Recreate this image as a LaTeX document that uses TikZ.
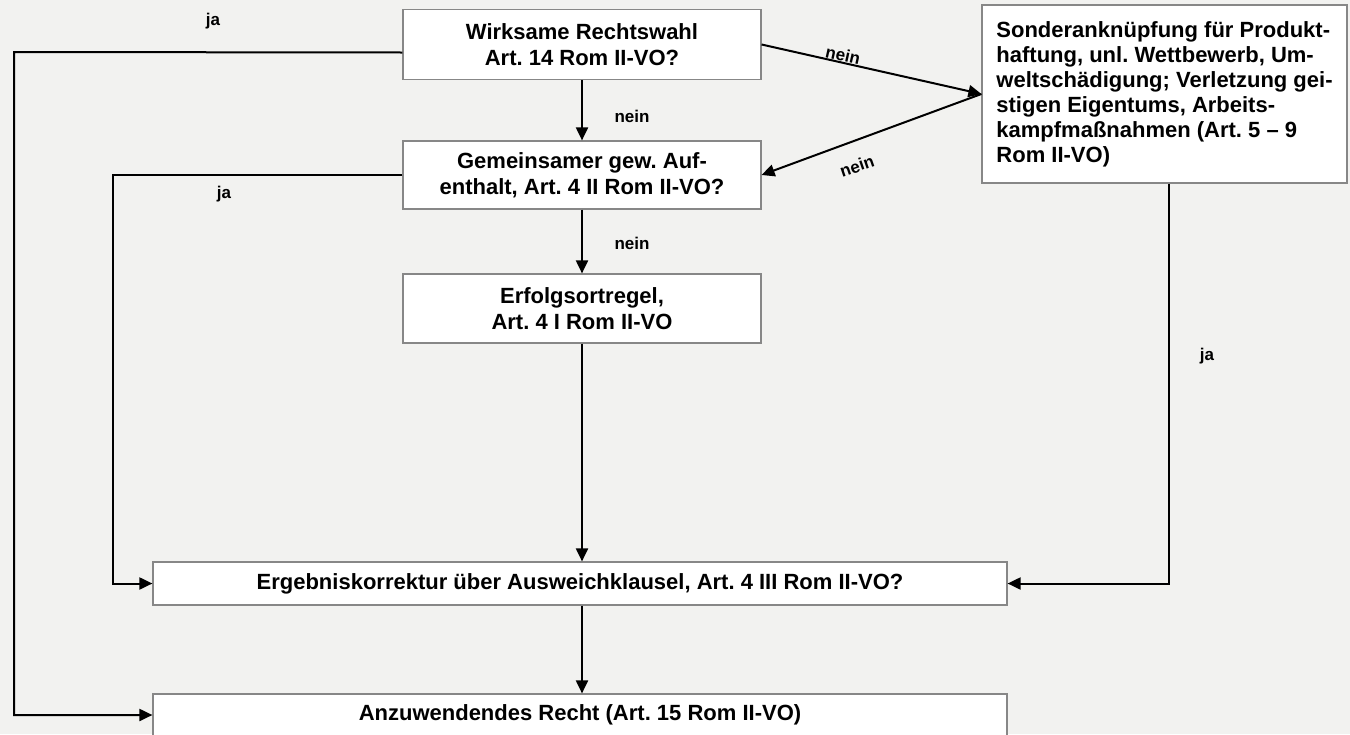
\documentclass[tikz,border=0pt]{standalone}
\usepackage{fontspec}
\setmainfont{Liberation Sans}
\usetikzlibrary{arrows.meta}
\definecolor{bg}{RGB}{242,242,240}
\definecolor{bord}{RGB}{135,135,135}
\frenchspacing
\begin{document}
\begin{tikzpicture}[x=0.5pt,y=-0.5pt,
  box/.style={draw=bord, line width=0.6pt, fill=white, inner sep=0pt,
    font=\bfseries\fontsize{11}{12.8}\selectfont, align=center},
  conn/.style={line width=1pt, -{Triangle[length=6.5pt,width=6pt]}},
  lbl/.style={font=\bfseries\fontsize{8.5}{9}\selectfont, inner sep=0pt}]
\useasboundingbox[fill=bg] (0,0) rectangle (1350,734);

\node[box, minimum width=179pt, minimum height=35pt] (w) at (582,44.5)
  {Wirksame Rechtswahl\\Art. 14 Rom II-VO?};
\node[box, minimum width=179pt, minimum height=34pt] (g) at (582,175)
  {Gemeinsamer gew. Auf-\\enthalt, Art. 4 II Rom II-VO?};
\node[box, minimum width=179pt, minimum height=34.5pt] (f) at (582,308.5)
  {Erfolgsortregel,\\Art. 4 I Rom II-VO};
\node[box, minimum width=182.5pt, minimum height=89pt, align=left,
  font=\bfseries\fontsize{11}{12.5}\selectfont] (s) at (1164.5,94)
  {Sonderanknüpfung für Produkt-\\haftung, unl. Wettbewerb, Um-\\weltschädigung; Verletzung gei-\\stigen Eigentums, Arbeits-\\kampfmaßnahmen (Art. 5 -- 9\\Rom II-VO)};
\node[box, minimum width=427pt, minimum height=21.5pt] (e) at (580,583.5)
  {Ergebniskorrektur über Ausweichklausel, Art. 4 III Rom II-VO?};
\node[box, minimum width=427pt, minimum height=21pt] (a) at (580,715)
  {Anzuwendendes Recht (Art. 15 Rom II-VO)};

% ja from Rechtswahl to Anzuwendendes Recht
\coordinate (c1) at (14,52);
\draw[conn] ([yshift=-4pt]w.west) -- (c1) |- (a.west);
\node[lbl] (l1) at (213,21) {ja};

% nein down
\draw[conn] (w.south) -- (g.north);
\node[lbl] (l2) at (632,116) {nein};

% nein to Sonder
\draw[conn] (w.east) -- (s.west);
\node[lbl, rotate=-12.5] (l3) at (843,55) {nein};
\draw[conn] (s.west) -- (g.east);
\node[lbl, rotate=19] (l4) at (857,166) {nein};

% ja from Gemeinsamer to Ergebniskorrektur
\coordinate (c2) at (113,175);
\draw[conn] (g.west) -- (c2) |- (e.west);
\node[lbl] (l5) at (224,194) {ja};

% nein down
\draw[conn] (g.south) -- (f.north);
\node[lbl] (l6) at (632,243) {nein};

\draw[conn] (f.south) -- (f.south |- e.north);

% ja from Sonder to Ergebniskorrektur
\draw[conn] ([xshift=2pt]s.south) |- (e.east);
\node[lbl] (l7) at (1207,356) {ja};

\draw[conn] (e.south -| f.south) -- (f.south |- a.north);
\end{tikzpicture}
\end{document}
